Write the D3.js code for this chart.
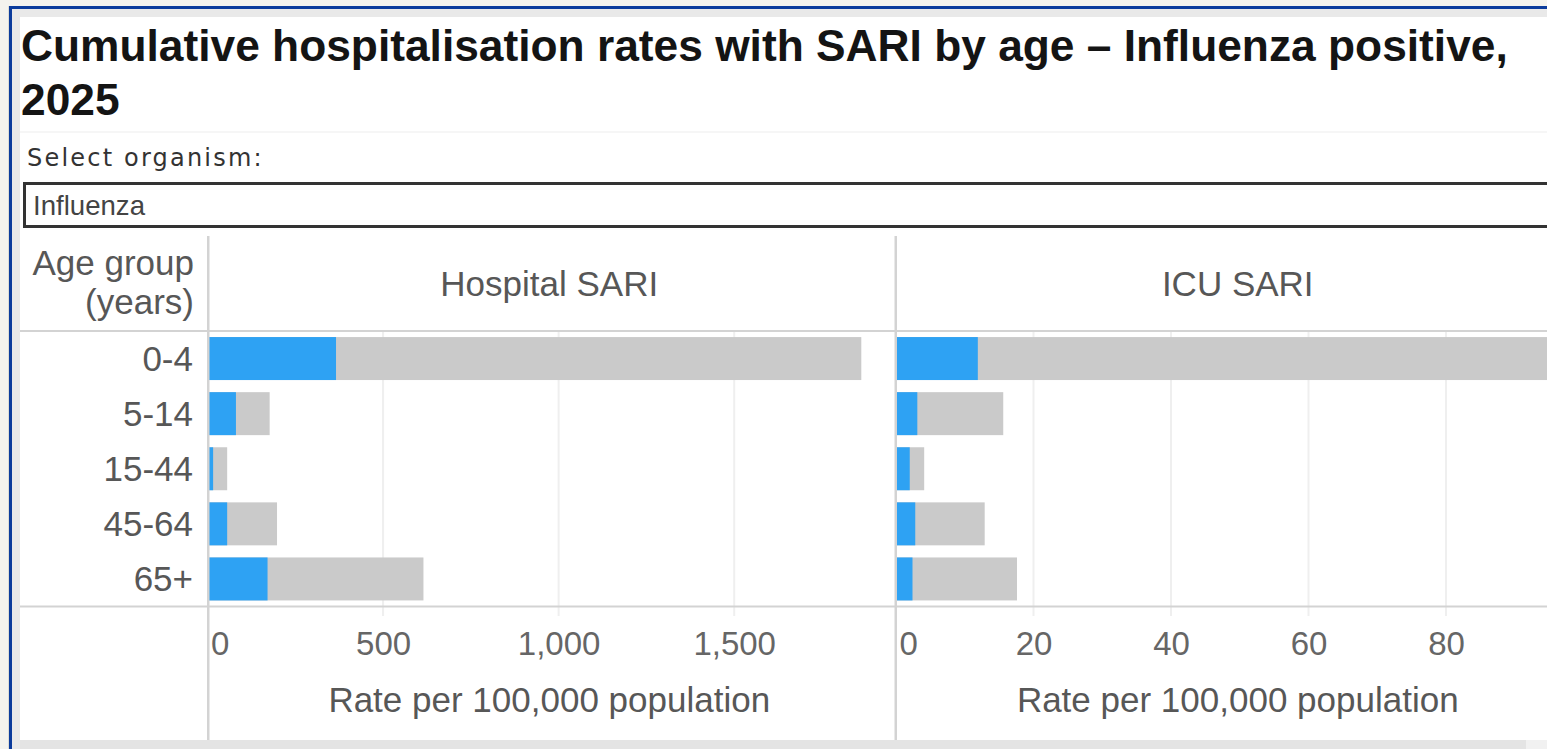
<!DOCTYPE html>
<html>
<head>
<meta charset="utf-8">
<script src="https://cdn.jsdelivr.net/npm/d3@7"></script>
<style>
  html, body { margin: 0; padding: 0; overflow: hidden; background: #f4f3ee; }
  svg { display: block; }
  text { font-family: "Liberation Sans", Arial, sans-serif; }
</style>
</head>
<body>
<svg id="chart" width="1547" height="749"></svg>
<script>
// ---- data ----
const ageGroups = ["0-4", "5-14", "15-44", "45-64", "65+"];
const hospitalInfluenza = [366, 81, 16, 56, 171];
const hospitalAllSari = [1862, 177, 56, 198, 615];
const icuInfluenza = [11.9, 3.1, 2.0, 2.8, 2.4];
const icuAllSari = [95.5, 15.6, 4.1, 12.9, 17.6];
const hospitalTicks = [0, 500, 1000, 1500];
const icuTicks = [0, 20, 40, 60, 80];
const panelTitles = ["Hospital SARI", "ICU SARI"];
const titleLines = ["Cumulative hospitalisation rates with SARI by age \u2013 Influenza positive,", "2025"];
const selectLabel = "Select organism:";
const selectValue = "Influenza";
const axisTitle = "Rate per 100,000 population";
const rowHeader = ["Age group", "(years)"];

const svg = d3.select("#chart");
const W = 1547, H = 749;
const blue = "#2ea2f3", grey = "#cacaca", lineC = "#d3d3d3", gridC = "#efefef", labelC = "#575757";

// ---- frame ----
svg.append("rect").attr("x", 0).attr("y", 0).attr("width", W).attr("height", H).attr("fill", "#f4f3ee");
svg.append("rect").attr("x", 9).attr("y", 6).attr("width", W).attr("height", H).attr("fill", "#0c3c9c");
svg.append("rect").attr("x", 12).attr("y", 9).attr("width", W).attr("height", H).attr("fill", "#e9e9e9");
svg.append("rect").attr("x", 20).attr("y", 17).attr("width", W).attr("height", 723).attr("fill", "#ffffff");
svg.append("rect").attr("x", 20).attr("y", 740).attr("width", 1506).attr("height", 9).attr("fill", "#e4e4e4");
svg.append("rect").attr("x", 1526).attr("y", 740).attr("width", 30).attr("height", 9).attr("fill", "#f1f1f1");
svg.append("line").attr("x1", 8.5).attr("x2", 8.5).attr("y1", 6).attr("y2", H).attr("stroke", "#dcdcd6");
svg.append("rect").attr("x", 20).attr("y", 131).attr("width", W).attr("height", 2).attr("fill", "#f6f6f6");

// ---- title ----
svg.append("g").selectAll("text").data(titleLines).join("text")
  .attr("x", 21).attr("y", (d, i) => 61 + i * 54)
  .attr("font-size", 44.3).attr("font-weight", "bold").attr("fill", "#141414")
  .text(d => d);

// ---- selector ----
svg.append("text").attr("x", 27).attr("y", 166)
  .style("font-family", "'DejaVu Sans', Verdana, sans-serif")
  .attr("font-size", 24).attr("letter-spacing", 2.2).attr("fill", "#333")
  .text(selectLabel);
svg.append("rect").attr("x", 24.5).attr("y", 183.5).attr("width", 1600).attr("height", 43)
  .attr("fill", "#fff").attr("stroke", "#333").attr("stroke-width", 3);
svg.append("text").attr("x", 33).attr("y", 215)
  .attr("font-size", 27.6).attr("fill", "#444").text(selectValue);

// ---- chart scales ----
const rowTop = 331, rowBottom = 606.5;
const y = d3.scaleBand().domain(ageGroups).range([rowTop, rowBottom]).paddingInner(0.22).paddingOuter(0.11);
const xHosp = d3.scaleLinear().domain([0, 1958]).range([207.5, 895]);
const xIcu = d3.scaleLinear().domain([0, 100]).range([896, 1583.5]);

const panels = [
  { x: xHosp, flu: hospitalInfluenza, all: hospitalAllSari, ticks: hospitalTicks, title: panelTitles[0] },
  { x: xIcu, flu: icuInfluenza, all: icuAllSari, ticks: icuTicks, title: panelTitles[1] }
];

// gridlines
panels.forEach(p => {
  svg.append("g").selectAll("line").data(p.ticks.slice(1)).join("line")
    .attr("x1", d => p.x(d)).attr("x2", d => p.x(d))
    .attr("y1", rowTop).attr("y2", 616)
    .attr("stroke", gridC).attr("stroke-width", 2);
});

// bars
panels.forEach(p => {
  const g = svg.append("g");
  g.selectAll("rect.all").data(ageGroups).join("rect").attr("class", "all")
    .attr("x", p.x(0) + 1).attr("y", d => y(d))
    .attr("width", (d, i) => p.x(p.all[i]) - p.x(0) - 1)
    .attr("height", y.bandwidth()).attr("fill", grey);
  g.selectAll("rect.flu").data(ageGroups).join("rect").attr("class", "flu")
    .attr("x", p.x(0) + 1).attr("y", d => y(d))
    .attr("width", (d, i) => p.x(p.flu[i]) - p.x(0) - 1)
    .attr("height", y.bandwidth()).attr("fill", blue);
});

// structural lines
svg.append("rect").attr("x", 20).attr("y", rowTop - 1).attr("width", W).attr("height", 2).attr("fill", lineC);
svg.append("rect").attr("x", 20).attr("y", rowBottom - 1).attr("width", W).attr("height", 2).attr("fill", lineC);
[xHosp(0), xIcu(0) - 1].forEach(vx => {
  svg.append("rect").attr("x", vx - 0.5).attr("y", 236).attr("width", 2.5).attr("height", 504).attr("fill", lineC);
});

// row labels
svg.append("g").selectAll("text").data(ageGroups).join("text")
  .attr("x", 193).attr("y", d => y(d) + y.bandwidth() / 2 + 12)
  .attr("text-anchor", "end").attr("font-size", 35).attr("fill", labelC)
  .text(d => d);

// row header
svg.append("g").selectAll("text").data(rowHeader).join("text")
  .attr("x", 194).attr("y", (d, i) => 275 + i * 39)
  .attr("text-anchor", "end").attr("font-size", 35).attr("fill", labelC)
  .text(d => d);

// panel headers + axes
panels.forEach(p => {
  const [r0, r1] = p.x.range();
  const cx = (r0 + r1) / 2;
  svg.append("text").attr("x", cx - 2).attr("y", 296).attr("text-anchor", "middle")
    .attr("font-size", 35).attr("fill", labelC).text(p.title);

  const ax = svg.append("g").attr("transform", `translate(0, ${rowBottom})`)
    .call(d3.axisBottom(p.x).tickValues(p.ticks).tickSize(0).tickPadding(0).tickFormat(d3.format(",")));
  ax.select(".domain").remove();
  ax.selectAll("text")
    .attr("y", 48.5).attr("dy", null)
    .style("font-family", "'Liberation Sans', Arial, sans-serif")
    .attr("font-size", 33).attr("fill", "#666");
  ax.selectAll(".tick").filter(d => d === 0).select("text").attr("text-anchor", "start").attr("x", 3);

  svg.append("text").attr("x", cx - 2).attr("y", 712).attr("text-anchor", "middle")
    .attr("font-size", 35).attr("fill", labelC).text(axisTitle);
});
</script>
</body>
</html>
